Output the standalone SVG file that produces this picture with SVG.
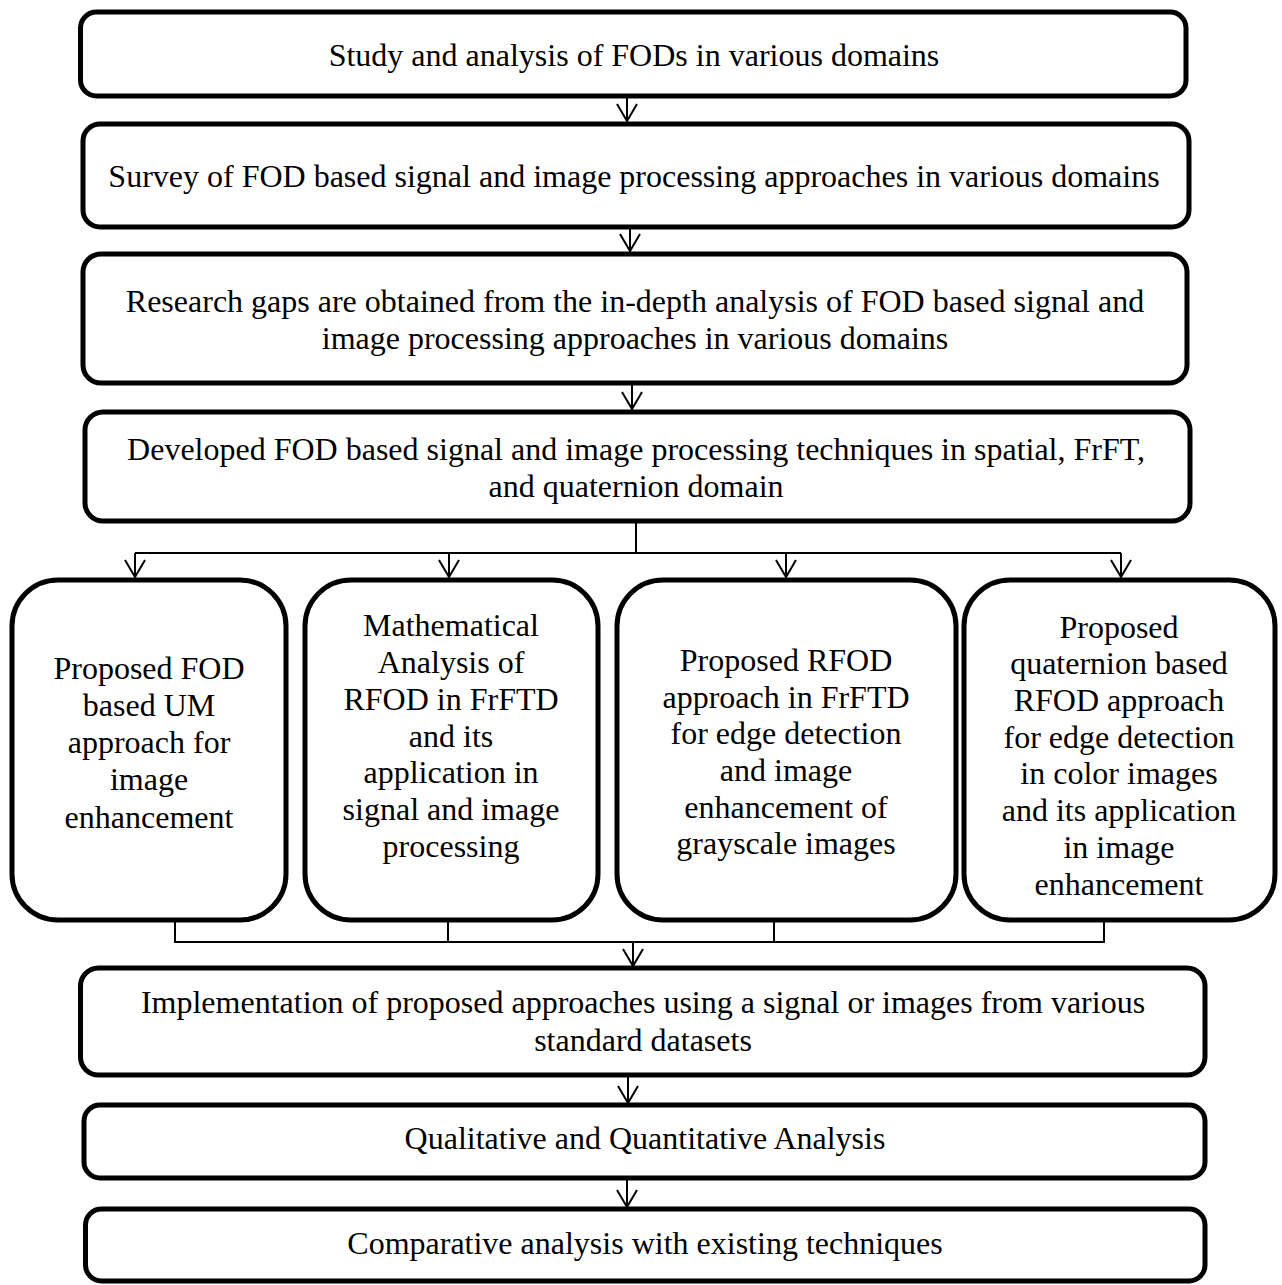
<svg xmlns="http://www.w3.org/2000/svg" width="1282" height="1285" viewBox="0 0 1282 1285">
<style>
.box{fill:#fff;stroke:#000;stroke-width:5}
.t{font-family:"Liberation Serif","Times New Roman",serif;font-size:32px;fill:#000;text-anchor:middle}
.c{fill:none;stroke:#000;stroke-width:2}
</style>
<defs>
<marker id="ah" markerUnits="userSpaceOnUse" markerWidth="22" markerHeight="24" viewBox="-18 -12 20 24" refX="0" refY="0" orient="auto">
<path d="M-17,-10 L0,0 L-17,10" fill="none" stroke="#000" stroke-width="2"/>
</marker>
</defs>
<g id="connectors">
<path class="c" d="M627,96 V121" marker-end="url(#ah)"/>
<path class="c" d="M630,227 V251" marker-end="url(#ah)"/>
<path class="c" d="M632,383 V409" marker-end="url(#ah)"/>
<path class="c" d="M636,521 V553 M135,553 H1121"/>
<path class="c" d="M135,553 V577" marker-end="url(#ah)"/>
<path class="c" d="M449,553 V577" marker-end="url(#ah)"/>
<path class="c" d="M786,553 V577" marker-end="url(#ah)"/>
<path class="c" d="M1121,553 V577" marker-end="url(#ah)"/>
<path class="c" d="M175,920 V942 H1104 V920 M448,920 V942 M774,920 V942"/>
<path class="c" d="M633,942 V966" marker-end="url(#ah)"/>
<path class="c" d="M628,1075 V1103" marker-end="url(#ah)"/>
<path class="c" d="M627,1178 V1207" marker-end="url(#ah)"/>
</g>
<g id="n1"><rect class="box" x="80.5" y="12" width="1105.5" height="84" rx="16"/>
<text class="t" x="634" y="66">Study and analysis of FODs in various domains</text></g>
<g id="n2"><rect class="box" x="83" y="124" width="1106" height="103" rx="17"/>
<text class="t" x="634" y="187">Survey of FOD based signal and image processing approaches in various domains</text></g>
<g id="n3"><rect class="box" x="83" y="254" width="1104" height="129" rx="18"/>
<text class="t" x="635" y="312">Research gaps are obtained from the in-depth analysis of FOD based signal and</text>
<text class="t" x="635" y="349">image processing approaches in various domains</text></g>
<g id="n4"><rect class="box" x="85" y="412" width="1105" height="109" rx="18"/>
<text class="t" x="636" y="460">Developed FOD based signal and image processing techniques in spatial, FrFT,</text>
<text class="t" x="636" y="497">and quaternion domain</text></g>
<g id="n5"><rect class="box" x="12" y="580" width="274" height="340" rx="46"/>
<text class="t" x="149" y="679">Proposed FOD</text>
<text class="t" x="149" y="716">based UM</text>
<text class="t" x="149" y="753">approach for</text>
<text class="t" x="149" y="790">image</text>
<text class="t" x="149" y="828">enhancement</text></g>
<g id="n6"><rect class="box" x="305" y="580" width="293" height="340" rx="46"/>
<text class="t" x="451" y="636">Mathematical</text>
<text class="t" x="451" y="673">Analysis of</text>
<text class="t" x="451" y="710">RFOD in FrFTD</text>
<text class="t" x="451" y="747">and its</text>
<text class="t" x="451" y="783">application in</text>
<text class="t" x="451" y="820">signal and image</text>
<text class="t" x="451" y="857">processing</text></g>
<g id="n7"><rect class="box" x="617" y="580" width="339" height="340" rx="46"/>
<text class="t" x="786" y="671">Proposed RFOD</text>
<text class="t" x="786" y="708">approach in FrFTD</text>
<text class="t" x="786" y="744">for edge detection</text>
<text class="t" x="786" y="781">and image</text>
<text class="t" x="786" y="818">enhancement of</text>
<text class="t" x="786" y="854">grayscale images</text></g>
<g id="n8"><rect class="box" x="964" y="580" width="311" height="340" rx="46"/>
<text class="t" x="1119" y="638">Proposed</text>
<text class="t" x="1119" y="674">quaternion based</text>
<text class="t" x="1119" y="711">RFOD approach</text>
<text class="t" x="1119" y="748">for edge detection</text>
<text class="t" x="1119" y="784">in color images</text>
<text class="t" x="1119" y="821">and its application</text>
<text class="t" x="1119" y="858">in image</text>
<text class="t" x="1119" y="895">enhancement</text></g>
<g id="n9"><rect class="box" x="80.5" y="968" width="1124.5" height="107" rx="18"/>
<text class="t" x="643" y="1013">Implementation of proposed approaches using a signal or images from various</text>
<text class="t" x="643" y="1051">standard datasets</text></g>
<g id="n10"><rect class="box" x="84" y="1105" width="1121" height="73" rx="16"/>
<text class="t" x="645" y="1149">Qualitative and Quantitative Analysis</text></g>
<g id="n11"><rect class="box" x="85.5" y="1209" width="1119.5" height="72" rx="16"/>
<text class="t" x="645" y="1254">Comparative analysis with existing techniques</text></g>
</svg>
